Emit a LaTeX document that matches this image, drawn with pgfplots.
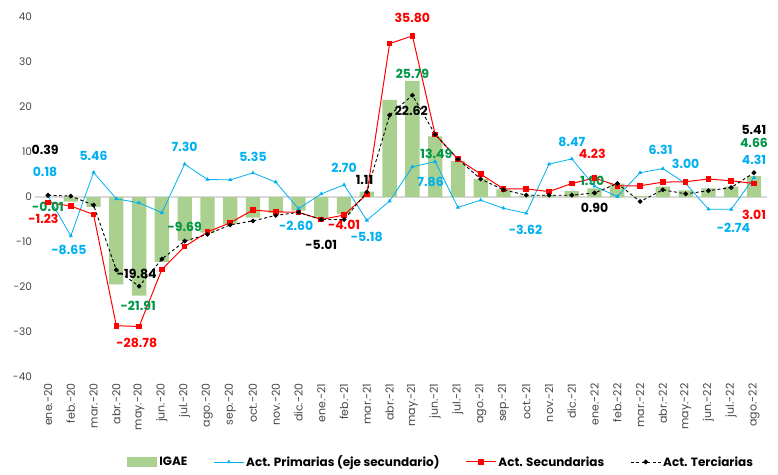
\documentclass[border=0pt]{standalone}
\usepackage{fontspec}
\setmainfont{Poppins}
\usepackage{pgfplots}
\pgfplotsset{compat=1.18}
\definecolor{igae}{RGB}{169,208,142}
\definecolor{prim}{RGB}{0,176,240}
\definecolor{secu}{RGB}{255,0,0}
\definecolor{glab}{RGB}{0,150,70}
\definecolor{tickgray}{RGB}{70,70,70}
\pgfplotsset{
  mylegline/.style={legend image code/.code={\draw[mark repeat=2,mark phase=2,##1] plot coordinates {(0pt,0pt) (15pt,0pt) (30pt,0pt)};}},
  mylegbar/.style={legend image code/.code={\fill[igae] (0pt,-5pt) rectangle (30pt,5pt);}},
}
\newcommand{\lab}[4]{\node[font=\bfseries\fontsize{12.5}{14}\selectfont, text=#3, inner sep=0pt] at (axis cs:#1,#2) {#4};}
\begin{document}
\begin{tikzpicture}
\path[use as bounding box] (-35.5pt,-97pt) rectangle (742.5pt,377pt);
\begin{axis}[
  scale only axis, width=731pt, height=360pt,
  xmin=-0.55, xmax=31.55, ymin=-40, ymax=40,
  axis line style={draw=none},
  major tick length=0pt,
  xtick={0,...,31},
  xticklabels={ene.-20,feb.-20,mar.-20,abr.-20,may.-20,jun.-20,jul.-20,ago.-20,sep.-20,oct.-20,nov.-20,dic.-20,ene.-21,feb.-21,mar.-21,abr.-21,may.-21,jun.-21,jul.-21,ago.-21,sep.-21,oct.-21,nov.-21,dic.-21,ene.-22,feb.-22,mar.-22,abr.-22,may.-22,jun.-22,jul.-22,ago.-22},
  xticklabel style={rotate=90, anchor=east, font=\fontsize{11}{12}\selectfont, text=tickgray, xshift=0pt, yshift=0pt},
  xticklabel shift=3pt,
  ytick={-40,-30,...,40},
  yticklabel style={font=\fontsize{10.5}{12}\selectfont, text=tickgray},
  /pgf/number format/assume math mode=true,
  clip=false,
  legend style={at={(0.555,-0.236)}, anchor=center, draw=none, fill=none, legend columns=4,
    font=\bfseries\fontsize{12}{13}\selectfont,
    /tikz/every even column/.append style={column sep=24pt}},
  legend cell align=left,
]
\draw[gray!30, line width=2pt] (axis cs:-0.55,0) -- (axis cs:31.55,0);
\addplot[ybar, bar width=14.3pt, fill=igae, draw=none, mylegbar]
coordinates {(0,-0.01)(1,-1.0)(2,-2.2)(3,-19.4)(4,-21.91)(5,-14.4)(6,-9.69)(7,-7.9)(8,-6.0)(9,-4.6)(10,-3.6)(11,-3.0)(12,-4.7)(13,-3.8)(14,1.2)(15,21.6)(16,25.79)(17,13.49)(18,8.0)(19,4.0)(20,1.7)(21,0.3)(22,0.4)(23,1.3)(24,1.90)(25,3.0)(26,0.2)(27,2.3)(28,1.5)(29,1.9)(30,2.3)(31,4.66)};
\addlegendentry{IGAE}
\addplot[prim, line width=0.8pt, mark=triangle*, mark size=1.6pt, mylegline]
coordinates {(0,0.18)(1,-8.65)(2,5.46)(3,-0.4)(4,-1.3)(5,-3.5)(6,7.30)(7,3.9)(8,3.8)(9,5.35)(10,3.3)(11,-2.60)(12,0.7)(13,2.70)(14,-5.18)(15,-0.9)(16,6.7)(17,7.86)(18,-2.3)(19,-0.7)(20,-2.5)(21,-3.62)(22,7.3)(23,8.47)(24,2.4)(25,0.1)(26,5.4)(27,6.31)(28,3.00)(29,-2.7)(30,-2.74)(31,4.31)};
\addlegendentry{Act. Primarias (eje secundario)}
\addplot[secu, line width=1pt, mark=square*, mark size=2.3pt, mylegline]
coordinates {(0,-1.23)(1,-2.0)(2,-3.9)(3,-28.6)(4,-28.78)(5,-16.1)(6,-11.0)(7,-7.8)(8,-5.7)(9,-2.9)(10,-3.3)(11,-3.4)(12,-5.0)(13,-4.01)(14,0.6)(15,34.1)(16,35.80)(17,13.9)(18,8.4)(19,5.1)(20,1.8)(21,1.8)(22,1.2)(23,3.0)(24,4.23)(25,2.5)(26,2.5)(27,3.3)(28,3.4)(29,4.0)(30,3.6)(31,3.01)};
\addlegendentry{Act. Secundarias}
\addplot[black, line width=0.9pt, dash pattern=on 3pt off 2.5pt, mark=*, mark size=1.9pt, mark options={solid}, mylegline]
coordinates {(0,0.39)(1,0.2)(2,-1.8)(3,-16.2)(4,-19.84)(5,-13.8)(6,-9.8)(7,-8.3)(8,-6.2)(9,-5.3)(10,-4.1)(11,-3.4)(12,-5.01)(13,-5.0)(14,1.11)(15,18.2)(16,22.62)(17,13.9)(18,8.4)(19,4.0)(20,1.6)(21,0.4)(22,0.4)(23,0.4)(24,0.90)(25,3.0)(26,-1.0)(27,1.6)(28,0.7)(29,1.4)(30,2.1)(31,5.41)};
\addlegendentry{Act. Terciarias}
% data labels
\lab{-0.13}{10.4}{black}{0.39}
\lab{-0.13}{5.6}{prim}{0.18}
\lab{0}{-2.2}{glab}{-0.01}
\lab{-0.2}{-4.9}{secu}{-1.23}
\lab{0.92}{-11.8}{prim}{-8.65}
\lab{2.0}{9.1}{prim}{5.46}
\lab{3.9}{-17.1}{black}{-19.84}
\lab{3.96}{-24.2}{glab}{-21.91}
\lab{3.9}{-32.5}{secu}{-28.78}
\lab{6.0}{-6.6}{glab}{-9.69}
\lab{6.0}{11.1}{prim}{7.30}
\lab{9.0}{8.9}{prim}{5.35}
\lab{10.9}{-6.4}{prim}{-2.60}
\lab{12.0}{-10.7}{black}{-5.01}
\lab{13.0}{-6.2}{secu}{-4.01}
\lab{14.0}{-8.9}{prim}{-5.18}
\lab{13.0}{6.4}{prim}{2.70}
\lab{13.9}{3.8}{black}{1.11}
\lab{16.0}{39.7}{secu}{35.80}
\lab{16.0}{27.3}{glab}{25.79}
\lab{15.95}{19.1}{black}{22.62}
\lab{17.05}{9.6}{glab}{13.49}
\lab{16.8}{3.4}{prim}{7.86}
\lab{20.97}{-7.3}{prim}{-3.62}
\lab{23.0}{12.3}{prim}{8.47}
\lab{23.9}{9.5}{secu}{4.23}
\lab{23.9}{3.5}{glab}{1.90}
\lab{24.0}{-2.5}{black}{0.90}
\lab{26.9}{10.4}{prim}{6.31}
\lab{28.0}{7.3}{prim}{3.00}
\lab{30.1}{-6.9}{prim}{-2.74}
\lab{31.0}{14.9}{black}{5.41}
\lab{31.0}{12.0}{glab}{4.66}
\lab{31.0}{8.2}{prim}{4.31}
\lab{31.0}{-4.0}{secu}{3.01}
\end{axis}
\end{tikzpicture}
\end{document}
